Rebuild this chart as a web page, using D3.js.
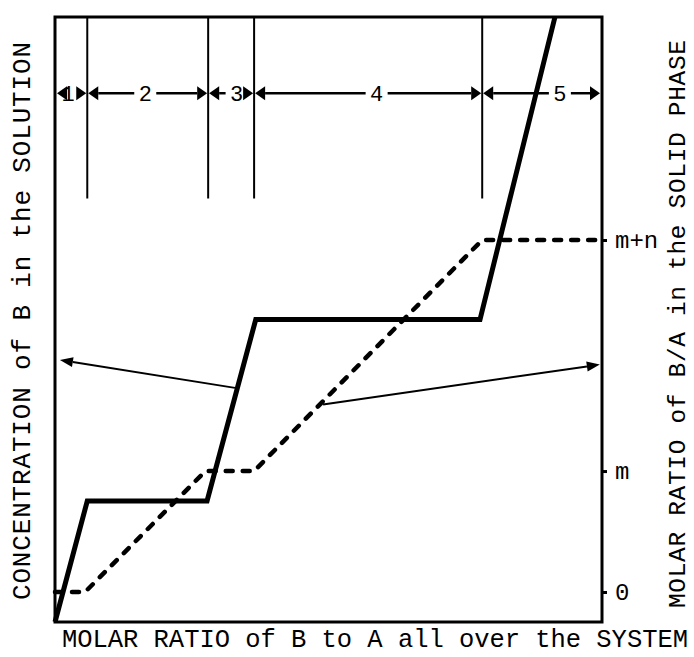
<!DOCTYPE html>
<html>
<head>
<meta charset="utf-8">
<script src="https://cdn.jsdelivr.net/npm/d3@7"></script>
<style>
  html, body { margin: 0; padding: 0; background: #fff; }
  svg { display: block; }
  text { font-family: "Liberation Mono", "Courier New", monospace; fill: #000; }
</style>
</head>
<body>
<svg id="chart" width="694" height="657"></svg>
<script>
// ---------- data ----------
const regionBounds = [0, 5.9, 28.0, 36.4, 78.1, 100];   // x (molar ratio, arbitrary units)
const regionLabels = ["1", "2", "3", "4", "5"];
const regionLabelX = [2.4, 16.5, 33.2, 58.8, 92.3];

// concentration of B in the solution (solid curve)
const concX = [0, 5.9, 27.8, 36.7, 77.7, 91.4];
const concY = [0, 20, 20, 50, 50, 100];

// molar ratio B/A in the solid phase (dashed curve)
const ratioX = [0, 5.5, 27.5, 36.4, 78.1, 100];
const ratioY = [0, 0, 1, 1, 2.91, 2.91];

const ratioTickValues = [0, 1, 2.91];
const ratioTickLabels = ["0", "m", "m+n"];

// pointer arrows: [fromX, fromY, toX, toY]
const leftPointer = [32.9, 38.7, 0.9, 43.3];     // concentration units
const rightPointer = [49.0, 1.55, 99.6, 1.88];   // ratio units

const dividerBottom = 70;    // concentration units
const regionArrowY = 87.4;   // concentration units

const xTitle = "MOLAR RATIO of B to A all over the SYSTEM";
const yLeftTitle = "CONCENTRATION of B in the SOLUTION";
const yRightTitle = "MOLAR RATIO of B/A in the SOLID PHASE";

// ---------- scales ----------
const x = d3.scaleLinear().domain([0, 100]).range([55, 602]);
const yC = d3.scaleLinear().domain([0, 100]).range([622, 17]);
const yR = d3.scaleLinear().domain([0, 2.91]).range([592, 240]);

const svg = d3.select("#chart");

// frame
svg.append("rect")
  .attr("x", x(0)).attr("y", yC(100))
  .attr("width", x(100) - x(0)).attr("height", yC(0) - yC(100))
  .attr("fill", "none").attr("stroke", "#000").attr("stroke-width", 3);

// right axis ticks
const rAxis = d3.axisRight(yR).tickValues(ratioTickValues)
  .tickFormat((d, i) => ratioTickLabels[i]).tickSize(5).tickPadding(8);
const ra = svg.append("g").attr("transform", `translate(${x(100)},0)`).call(rAxis);
ra.select(".domain").remove();
ra.selectAll(".tick line").attr("stroke", "#000").attr("stroke-width", 3);
ra.selectAll(".tick text")
  .style("font-family", '"Liberation Mono", "Courier New", monospace')
  .attr("font-size", 24).attr("fill", "#000").attr("dy", "0.3em");

// dividers
svg.append("g").selectAll("line")
  .data(regionBounds.slice(1, -1)).join("line")
  .attr("x1", d => x(d)).attr("x2", d => x(d))
  .attr("y1", yC(100)).attr("y2", yC(dividerBottom))
  .attr("stroke", "#000").attr("stroke-width", 2);

// region arrows
const ay = yC(regionArrowY);
const headLen = 10, headHalf = 7, gap = 11;
const rg = svg.append("g");
regionLabels.forEach((lab, i) => {
  const x0 = x(regionBounds[i]) + (i === 0 ? 2 : 1);
  const x1 = x(regionBounds[i + 1]) - (i === 4 ? 2 : 1);
  const lx = x(regionLabelX[i]);
  rg.append("path")
    .attr("d", `M${x0},${ay} L${x0 + headLen},${ay - headHalf} L${x0 + headLen},${ay + headHalf} Z`)
    .attr("fill", "#000");
  rg.append("path")
    .attr("d", `M${x1},${ay} L${x1 - headLen},${ay - headHalf} L${x1 - headLen},${ay + headHalf} Z`)
    .attr("fill", "#000");
  if (lx - gap > x0 + headLen)
    rg.append("line").attr("x1", x0 + headLen).attr("x2", lx - gap)
      .attr("y1", ay).attr("y2", ay).attr("stroke", "#000").attr("stroke-width", 2.5);
  if (lx + gap < x1 - headLen)
    rg.append("line").attr("x1", lx + gap).attr("x2", x1 - headLen)
      .attr("y1", ay).attr("y2", ay).attr("stroke", "#000").attr("stroke-width", 2.5);
  rg.append("text").attr("x", lx).attr("y", ay).attr("dy", "0.36em")
    .attr("text-anchor", "middle").attr("font-size", 22).text(lab);
});

// concentration curve (solid)
const concLine = d3.line().x(d => x(d[0])).y(d => yC(d[1]));
svg.append("path")
  .datum(concX.map((v, i) => [v, concY[i]]))
  .attr("d", concLine)
  .attr("fill", "none").attr("stroke", "#000").attr("stroke-width", 5)
  .attr("stroke-linejoin", "miter");

// ratio curve (dashed)
const ratioLine = d3.line().x(d => x(d[0])).y(d => yR(d[1])).curve(d3.curveLinear);
svg.append("path")
  .datum(ratioX.map((v, i) => [v, ratioY[i]]))
  .attr("d", ratioLine)
  .attr("fill", "none").attr("stroke", "#000").attr("stroke-width", 4.5)
  .attr("stroke-dasharray", "7,10").attr("stroke-linecap", "round")
  .attr("stroke-linejoin", "round");

// pointer arrows
function pointer(x1, y1, x2, y2) {
  const ang = Math.atan2(y2 - y1, x2 - x1);
  const L = 13, W = 5;
  const bx = x2 - L * Math.cos(ang), by = y2 - L * Math.sin(ang);
  svg.append("line").attr("x1", x1).attr("y1", y1).attr("x2", bx).attr("y2", by)
    .attr("stroke", "#000").attr("stroke-width", 2);
  const px = -Math.sin(ang) * W, py = Math.cos(ang) * W;
  svg.append("path")
    .attr("d", `M${x2},${y2} L${bx + px},${by + py} L${bx - px},${by - py} Z`)
    .attr("fill", "#000");
}
pointer(x(leftPointer[0]), yC(leftPointer[1]), x(leftPointer[2]), yC(leftPointer[3]));
pointer(x(rightPointer[0]), yR(rightPointer[1]), x(rightPointer[2]), yR(rightPointer[3]));

// titles
svg.append("text").attr("x", 62).attr("y", 647)
  .attr("font-size", 25.5).attr("textLength", 626).attr("lengthAdjust", "spacing")
  .text(xTitle);

svg.append("text")
  .attr("transform", "translate(30,600) rotate(-90)")
  .attr("font-size", 26).attr("textLength", 558).attr("lengthAdjust", "spacing")
  .text(yLeftTitle);

svg.append("text")
  .attr("transform", "translate(685,608) rotate(-90)")
  .attr("font-size", 24.5).attr("textLength", 568).attr("lengthAdjust", "spacing")
  .text(yRightTitle);
</script>
</body>
</html>
